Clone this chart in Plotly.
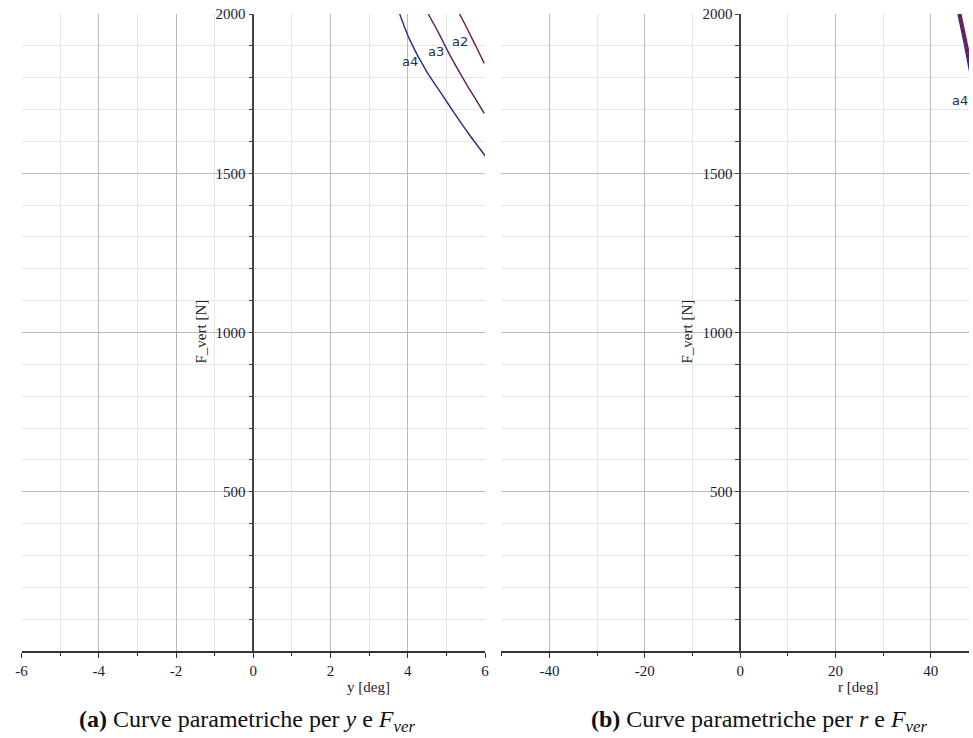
import plotly.graph_objects as go

# ---------------- data ----------------
# Panel (a): y [deg] vs F_vert [N]
a_y_a4 = [3.79, 4.04, 4.49, 4.87, 5.21, 5.60, 6.00]
a_F_a4 = [2000, 1922, 1819, 1750, 1688, 1620, 1555]
a_y_a3 = [4.53, 4.80, 5.09, 5.35, 5.56, 5.78, 5.98]
a_F_a3 = [2000, 1940, 1871, 1815, 1771, 1728, 1688]
a_y_a2 = [5.34, 5.50, 5.64, 5.80, 5.98]
a_F_a2 = [2000, 1963, 1929, 1890, 1845]

# Panel (b): r [deg] vs F_vert [N]
b_F = [2000, 1950, 1900, 1845, 1790]
b_r_a4 = [45.7, 46.4, 47.1, 47.8, 48.5]
b_r_a3 = [45.9, 46.6, 47.3, 48.0, 48.7]
b_r_a2 = [46.1, 46.8, 47.5, 48.2, 48.9]
b_r_a1 = [46.3, 47.0, 47.7, 48.4, 49.1]

# tick labels
a_xticks = [-6, -4, -2, 0, 2, 4, 6]
a_xtext = ["-6", "-4", "-2", "0", "2", "4", "6"]
b_xticks = [-40, -20, 0, 20, 40]
b_xtext = ["-40", "-20", "0", "20", "40"]
yticks = [500, 1000, 1500, 2000]
ytext = ["500", "1000", "1500", "2000"]

# label positions
a_labels = [("a4", 4.05, 1852), ("a3", 4.72, 1883), ("a2", 5.34, 1913)]
b_labels = [("a4", 46.2, 1730)]

# ---------------- style ----------------
C_A1 = "#a01030"
C_A2 = "#7a1840"
C_A3 = "#5a2060"
C_A4 = "#2a2a86"
SERIF = "Liberation Serif"
TICKCOL = "#1a1a3a"
MAJ_GRID = "#bcbcbc"
MIN_GRID = "#e6e6e6"
AXCOL = "#444444"

W, H = 973, 738
T_M, B_M = 14, 87
PLOT_H = H - T_M - B_M
fig = go.Figure()

def line(x, y, color, xa, ya):
    fig.add_trace(go.Scatter(x=x, y=y, mode="lines",
                             line=dict(color=color, width=1.4, shape="spline", smoothing=0.6),
                             xaxis=xa, yaxis=ya, showlegend=False, hoverinfo="skip"))

line(a_y_a4, a_F_a4, C_A4, "x", "y")
line(a_y_a3, a_F_a3, C_A3, "x", "y")
line(a_y_a2, a_F_a2, C_A2, "x", "y")

line(b_r_a1, b_F, C_A1, "x2", "y2")
line(b_r_a2, b_F, C_A2, "x2", "y2")
line(b_r_a3, b_F, C_A3, "x2", "y2")
line(b_r_a4, b_F, C_A4, "x2", "y2")

def xaxis_cfg(domain, rng, tv, tt, minor_dtick, yanchor):
    return dict(domain=domain, range=rng, anchor=yanchor,
                tickmode="array", tickvals=tv, ticktext=tt,
                showgrid=True, gridcolor=MAJ_GRID, gridwidth=1,
                zeroline=False, showline=True, linecolor="#333333", linewidth=1.5,
                ticks="outside", ticklen=5, tickcolor="#333333", tickwidth=1,
                tickfont=dict(family=SERIF, size=15, color=TICKCOL),
                minor=dict(tickmode="linear", tick0=0, dtick=minor_dtick, showgrid=True,
                           gridcolor=MIN_GRID, gridwidth=1, ticks="outside", ticklen=3,
                           tickcolor="#333333"),
                fixedrange=True)

def yaxis_cfg(position):
    return dict(domain=[0, 1], range=[0, 2000], anchor="free",
                position=position,
                tickmode="array", tickvals=yticks, ticktext=ytext,
                showgrid=True, gridcolor=MAJ_GRID, gridwidth=1,
                zeroline=False, showline=True, linecolor=AXCOL, linewidth=1.5,
                ticks="outside", ticklen=4, tickcolor=AXCOL,
                tickfont=dict(family=SERIF, size=15, color=TICKCOL),
                minor=dict(tickmode="linear", tick0=0, dtick=100, showgrid=True,
                           gridcolor=MIN_GRID, gridwidth=1, ticks="outside", ticklen=4,
                           tickcolor=AXCOL),
                fixedrange=True)

a_dom = [15.7 / W, 484.0 / W]
b_dom = [500.0 / W, 1.0]
a_rng = [-6, 6]
b_rng = [-50.2, 48.0]

def zero_pos(dom, rng):
    return dom[0] + (0 - rng[0]) / (rng[1] - rng[0]) * (dom[1] - dom[0])

fig.update_layout(
    width=W, height=H,
    margin=dict(l=0, r=0, t=T_M, b=B_M),
    paper_bgcolor="white", plot_bgcolor="white",
    xaxis=xaxis_cfg(a_dom, a_rng, a_xticks, a_xtext, 1, "y"),
    yaxis=yaxis_cfg(zero_pos(a_dom, a_rng)),
    xaxis2=xaxis_cfg(b_dom, b_rng, b_xticks, b_xtext, 10, "y2"),
    yaxis2=yaxis_cfg(zero_pos(b_dom, b_rng)),
    showlegend=False,
)

def py(pix):
    # pixel row (from top of page) -> paper y
    return (H - B_M - pix) / PLOT_H

ann = []
for t, x, y in a_labels:
    ann.append(dict(text=t, x=x, y=y, xref="x", yref="y", showarrow=False,
                    xanchor="center", yanchor="middle",
                    font=dict(family="DejaVu Sans", size=13, color="#203050")))
for t, x, y in b_labels:
    ann.append(dict(text=t, x=x, y=y, xref="x2", yref="y2", showarrow=False,
                    xanchor="center", yanchor="middle",
                    font=dict(family="DejaVu Sans", size=13, color="#203050")))

TITLE_FONT = dict(family=SERIF, size=15, color="#2a1a2a")
# axis titles
ann.append(dict(text="y [deg]", x=366 / W, y=py(687), xref="paper", yref="paper",
                xanchor="center", yanchor="middle", showarrow=False, font=TITLE_FONT))
ann.append(dict(text="r [deg]", x=861 / W, y=py(687), xref="paper", yref="paper",
                xanchor="center", yanchor="middle", showarrow=False, font=TITLE_FONT))
ann.append(dict(text="F_vert [N]", x=197 / W, y=1003, xref="paper", yref="y", textangle=-90,
                xanchor="center", yanchor="middle", showarrow=False, font=TITLE_FONT))
ann.append(dict(text="F_vert [N]", x=688 / W, y=1003, xref="paper", yref="y2", textangle=-90,
                xanchor="center", yanchor="middle", showarrow=False, font=TITLE_FONT))

# captions
CAP_FONT = dict(family=SERIF, size=24, color="#111111")
ann.append(dict(text="<b>(a)</b> Curve parametriche per <i>y</i> e <i>F</i><sub><i>ver</i></sub>",
                x=244 / W, y=py(721), xref="paper", yref="paper",
                xanchor="center", yanchor="middle", showarrow=False, font=CAP_FONT))
ann.append(dict(text="<b>(b)</b> Curve parametriche per <i>r</i> e <i>F</i><sub><i>ver</i></sub>",
                x=761 / W, y=py(721), xref="paper", yref="paper",
                xanchor="center", yanchor="middle", showarrow=False, font=CAP_FONT))

fig.update_layout(annotations=ann)
fig.write_html("out.html")
